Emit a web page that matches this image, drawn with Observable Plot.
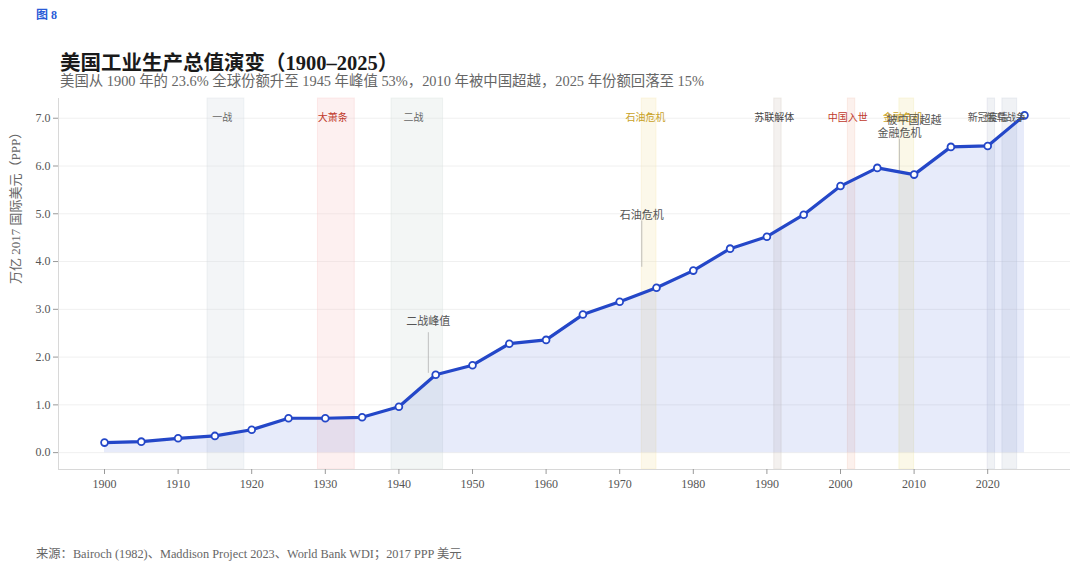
<!DOCTYPE html>
<html><head><meta charset="utf-8">
<script src="https://cdn.jsdelivr.net/npm/d3@7"></script>
<script src="https://cdn.jsdelivr.net/npm/@observablehq/plot@0.6"></script>
<style>
body{margin:0;background:#fff;width:1080px;height:573px;position:relative;overflow:hidden;font-family:"Liberation Serif","Noto Sans CJK SC",serif;}
.abs{position:absolute;white-space:nowrap;line-height:1;}
#fig{left:36px;top:9px;font-size:12px;font-weight:bold;color:#2a5bd7;}
#title{left:60px;top:53px;font-size:20.5px;font-weight:bold;color:#1a1a1a;}
#sub{left:60px;top:74px;font-size:14.4px;color:#666;}
#chart{left:0;top:90px;}
#cap{left:36px;top:548px;font-size:12.3px;color:#666;}
</style></head>
<body>
<div class="abs" id="fig">图 8</div>
<div class="abs" id="title">美国工业生产总值演变（1900–2025）</div>
<div class="abs" id="sub">美国从 1900 年的 23.6% 全球份额升至 1945 年峰值 53%，2010 年被中国超越，2025 年份额回落至 15%</div>
<div class="abs" id="chart"></div>
<div class="abs" id="cap">来源：Bairoch (1982)、Maddison Project 2023、World Bank WDI；2017 PPP 美元</div>
<script>
// ---- data ----
const years = [1900,1905,1910,1915,1920,1925,1930,1935,1940,1945,1950,1955,1960,1965,1970,1975,1980,1985,1990,1995,2000,2005,2010,2015,2020,2025];
const values = [0.21,0.23,0.30,0.35,0.48,0.72,0.72,0.74,0.96,1.63,1.83,2.28,2.36,2.89,3.16,3.45,3.81,4.27,4.52,4.98,5.58,5.96,5.82,6.40,6.42,7.06];

const eventNames  = ["一战","大萧条","二战","石油危机","苏联解体","中国入世","金融危机","新冠疫情","俄乌战争"];
const eventStarts = [1914,1929,1939,1973,1991,2001,2008,2020,2022];
const eventEnds   = [1918,1933,1945,1974,1991,2001,2009,2020,2023];
const eventKinds  = ["war","depression","war2","oil","ussr","wto","finance","pandemic","war3"];

const noteTexts  = ["二战峰值","石油危机","金融危机","被中国超越"];
const noteYears  = [1944,1973,2008,2010];
const noteValues = [2.75,4.96,6.68,6.95];
const leaderYears = [1944,1973,2008];
const leaderTop   = [2.51,4.85,6.56];
const leaderBottom= [1.66,3.88,5.86];

const yTicks = [0,1,2,3,4,5,6,7];
const xTicks = [1900,1910,1920,1930,1940,1950,1960,1970,1980,1990,2000,2010,2020];
const yLabel = "万亿 2017 国际美元（PPP）";

// ---- styling ----
const bandFill = {war:"#d3dce3",war2:"#d3e0dc",depression:"#f9c8c8",oil:"#f6e6b4",ussr:"#d8cec6",wto:"#f3cbbd",finance:"#f2e7ad",pandemic:"#c9cfdc",war3:"#c9cfdc"};
const labelFill = {war:"#666",war2:"#666",depression:"#c0392b",oil:"#c9a227",ussr:"#444",wto:"#c0392b",finance:"#c9a227",pandemic:"#555",war3:"#555"};
const blue = "#2447c8";

const series = years.map((y,i)=>({year:y,value:values[i]}));
const events = eventNames.map((n,i)=>({name:n,start:eventStarts[i],end:eventEnds[i],kind:eventKinds[i]}));
const notes = noteTexts.map((t,i)=>({text:t,year:noteYears[i],value:noteValues[i]}));
const leaders = leaderYears.map((y,i)=>({year:y,top:leaderTop[i],bottom:leaderBottom[i]}));

const xDom = [1893.75, 2031.25];
const yDom = [-0.353, 7.413];
const font = '"Liberation Serif","Noto Sans CJK SC",serif';

const chart = Plot.plot({
  width: 1080, height: 420,
  marginLeft: 58, marginRight: 10, marginTop: 8, marginBottom: 41,
  style: {fontFamily: font, fontSize: "12px", color: "#555", background: "transparent"},
  x: {domain: xDom},
  y: {domain: yDom},
  marks: [
    Plot.gridY(yTicks, {stroke: "#f0f0f0", strokeOpacity: 1}),
    Plot.rectX(events, {x1: "start", x2: d => d.end + 1, y1: yDom[0], y2: yDom[1],
      fill: d => bandFill[d.kind], fillOpacity: 0.28, stroke: d => bandFill[d.kind], strokeOpacity: 0.35, strokeWidth: 1}),
    Plot.areaY(series, {x: "year", y: "value", fill: "#3a5bd9", fillOpacity: 0.12}),
    Plot.ruleX(leaders, {x: "year", y1: "bottom", y2: "top", stroke: "#b0b0b0", strokeWidth: 0.8}),
    Plot.line(series, {x: "year", y: "value", stroke: blue, strokeWidth: 3.2}),
    Plot.dot(series, {x: "year", y: "value", r: 3.4, fill: "white", stroke: blue, strokeWidth: 1.8}),
    Plot.text(events, {x: d => (d.start + d.end) / 2, y: 7, text: "name", fill: d => labelFill[d.kind],
      fontSize: 10, fontFamily: '"Noto Sans CJK SC",sans-serif', lineAnchor: "middle"}),
    Plot.text(notes, {x: "year", y: "value", text: "text", fill: "#555", fontSize: 11,
      fontFamily: '"Noto Sans CJK SC",sans-serif', lineAnchor: "middle"}),
    Plot.ruleX([xDom[0]], {stroke: "#d8d8d8"}),
    Plot.ruleY([yDom[0]], {stroke: "#d8d8d8"}),
    Plot.axisY(yTicks, {tickFormat: d3.format(".1f"), tickSize: 5, tickPadding: 3, stroke: "#999", fill: "#555", label: null}),
    Plot.axisX(xTicks, {tickFormat: d => String(d), tickSize: 5, tickPadding: 5, stroke: "#999", fill: "#555", label: null}),
    Plot.text([yLabel], {frameAnchor: "left", dx: -43, rotate: -90, text: d => d, fill: "#666", fontSize: 13,
      fontFamily: font})
  ]
});
document.getElementById("chart").appendChild(chart);
</script>
</body></html>
